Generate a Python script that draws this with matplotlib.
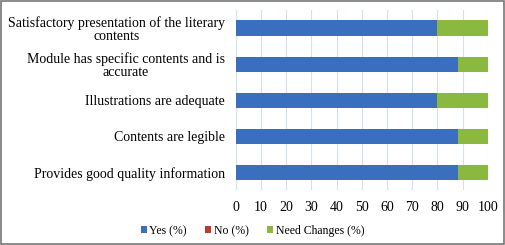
import numpy as np
import matplotlib.pyplot as plt
from matplotlib.patches import Rectangle

plt.rcParams['font.family'] = ['Liberation Serif', 'DejaVu Serif']

categories = ['Satisfactory presentation of the literary\ncontents',
              'Module has specific contents and is\naccurate',
              'Illustrations are adequate',
              'Contents are legible',
              'Provides good quality information']
yes = [80, 88, 80, 88, 88]
no = [0, 0, 0, 0, 0]
need = [20, 12, 20, 12, 12]

fig = plt.figure(figsize=(5.05, 2.45), dpi=100)
ax = fig.add_axes([0.467, 0.224, 0.499, 0.735])

y = np.arange(len(categories))
h = 0.42
ax.barh(y, yes, height=h, color='#3A6FBF', label='Yes (%)', zorder=3)
ax.barh(y, no, left=yes, height=h, color='#C0392B', label='No (%)', zorder=3)
ax.barh(y, need, left=np.add(yes, no), height=h, color='#8BB83E',
        label='Need Changes (%)', zorder=3)

ax.set_yticks(y)
ax.set_yticklabels(categories, fontsize=10, linespacing=1.0,
                   multialignment='center')
ax.set_ylim(4.5, -0.5)
ax.set_xlim(0, 100)
ax.set_xticks(range(0, 101, 10))
ax.tick_params(axis='x', labelsize=10, length=0, pad=8)
ax.tick_params(axis='y', length=0, pad=8)
ax.grid(axis='x', color='#D6DFEE', linewidth=0.8, zorder=0)
for s in ax.spines.values():
    s.set_visible(False)
ax.axvline(0, color='#D6DFEE', linewidth=0.8, zorder=0)

fig.legend(loc='lower center', bbox_to_anchor=(0.5, -0.01), ncol=3, frameon=False,
           fontsize=8.5, handlelength=0.5, handleheight=0.5, handletextpad=0.2,
           columnspacing=1.6)

fig.add_artist(Rectangle((0.002, 0.004), 0.996, 0.992, transform=fig.transFigure,
                         fill=False, edgecolor='#777777', linewidth=1.2))

fig.savefig('out.png', dpi=100)
